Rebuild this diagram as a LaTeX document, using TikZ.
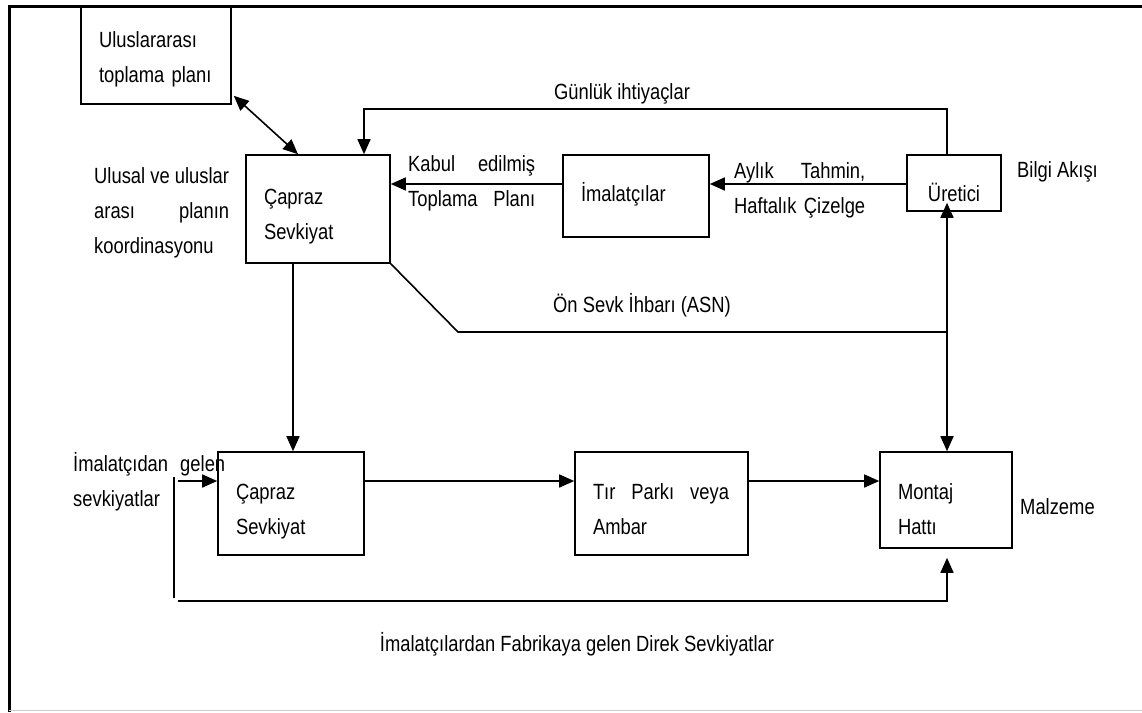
\documentclass[tikz,border=0pt]{standalone}
\usepackage{fontspec}
\setmainfont{Liberation Sans}[FakeStretch=0.835]
\usetikzlibrary{arrows.meta}

\begin{document}
\begin{tikzpicture}[x=1pt, y=-1pt, font=\fontsize{22}{35}\selectfont]
	\tikzset{kutu/.style={draw, line width=1.6pt, align=left, inner xsep=18pt, inner ysep=0pt, text depth=40pt}}
	\tikzset{yazi/.style={align=left, inner sep=0pt}}
	\tikzset{ok/.style={-{Triangle[length=15pt,width=13pt]}, line width=1.6pt}}
	\tikzset{cift/.style={{Triangle[length=15pt,width=13pt]}-{Triangle[length=15pt,width=13pt]}, line width=1.6pt}}
	\useasboundingbox (0,0) rectangle (1142,712);
	% cerceve
	\draw[line width=3pt] (9,712) -- (9,6) -- (1142,6);
	\draw[black!20, line width=1pt] (9,710) -- (1142,710);
	% kutular
	\node[kutu, text width=114pt, minimum height=98pt, text height=24pt] at (156,55) (ulus) {Uluslararası\\toplama planı};
	\node[kutu, text width=108pt, minimum height=108pt, text height=30pt] at (318,209) (capraz1) {Çapraz\\Sevkiyat};
	\node[kutu, text width=110pt, minimum height=82pt, text height=25pt, text depth=15pt] at (636,196) (imal) {İmalatçılar};
	\node[kutu, align=center, text width=58pt, minimum height=56pt, text height=36pt, text depth=0pt] at (954,183) (uretici) {Üretici};
	\node[kutu, text width=110pt, minimum height=103pt, text height=31pt] at (291,503.5) (capraz2) {Çapraz\\Sevkiyat};
	\node[kutu, text width=137pt, minimum height=103pt, text height=31pt] at (661.5,503.5) (tir) {\makebox[136pt][l]{Tır\hfill Parkı\hfill veya}\\Ambar};
	\node[kutu, text width=96pt, minimum height=96pt, text height=38pt] at (946,500) (montaj) {Montaj\\Hattı};
	% yazilar
	\node[yazi] at (622,94) (gunluk) {Günlük ihtiyaçlar};
	\node[yazi, anchor=west] at (408,183) (kabul) {\makebox[127pt][l]{Kabul\hfill edilmiş}\\\makebox[127pt][l]{Toplama\hfill Planı}};
	\node[yazi, anchor=west] at (734,190) (aylik) {\makebox[131pt][l]{Aylık\hfill Tahmin,}\\\makebox[131pt][l]{Haftalık\hfill Çizelge}};
	\node[yazi, anchor=west] at (1017,172) (bilgi) {Bilgi Akışı};
	\node[yazi, anchor=west] at (94,213) (ulusal) {Ulusal ve uluslar\\\makebox[135pt][l]{arası\hfill planın}\\koordinasyonu};
	\node[yazi] at (642,305) (asn) {Ön Sevk İhbarı (ASN)};
	\node[yazi, anchor=west] at (73,482) (gelen) {\makebox[152pt][l]{İmalatçıdan\hfill gelen}\\sevkiyatlar};
	\node[yazi, anchor=west] at (1020,507) (malzeme) {Malzeme};
	\node[yazi] at (577,644) (direk) {İmalatçılardan Fabrikaya gelen Direk Sevkiyatlar};
	% yardimci noktalar
	\coordinate (dik) at (947,0);
	\coordinate (dik2) at (293,0);
	\coordinate (b1) at (0,184);
	\coordinate (b2) at (0,481);
	\coordinate (gun) at (364,109);
	\coordinate (kirik) at (458,332);
	\coordinate (giris) at (178,481);
	\coordinate (alt) at (178,601);
	\coordinate (sol1) at (174,477);
	\coordinate (sol2) at (174,598);
	% baglantilar
	\path[cift] ([shift={(2,-9)}]ulus.south east) edge ([xshift=-20pt]capraz1.north);
	\draw[ok] (uretici.north -| dik) |- (gun) -- (gun |- capraz1.north);
	\path[ok] (uretici.west |- b1) edge (imal.east |- b1);
	\path[ok] (imal.west |- b1) edge (capraz1.east |- b1);
	\path[cift, shorten >=-9pt] (montaj.north -| dik) edge (uretici.south -| dik);
	\draw[line width=1.6pt] (capraz1.south east) -- (kirik) -- (kirik -| dik);
	\path[ok] (capraz1.south -| dik2) edge (capraz2.north -| dik2);
	\path[ok] (capraz2.east |- b2) edge (tir.west |- b2);
	\path[ok] (tir.east |- b2) edge (montaj.west |- b2);
	\path[ok] (giris) edge (capraz2.west |- giris);
	\draw[line width=1.6pt] (sol1) -- (sol2);
	\draw[ok, shorten >=9pt] (alt) -| (montaj.south -| dik);
\end{tikzpicture}
\end{document}
